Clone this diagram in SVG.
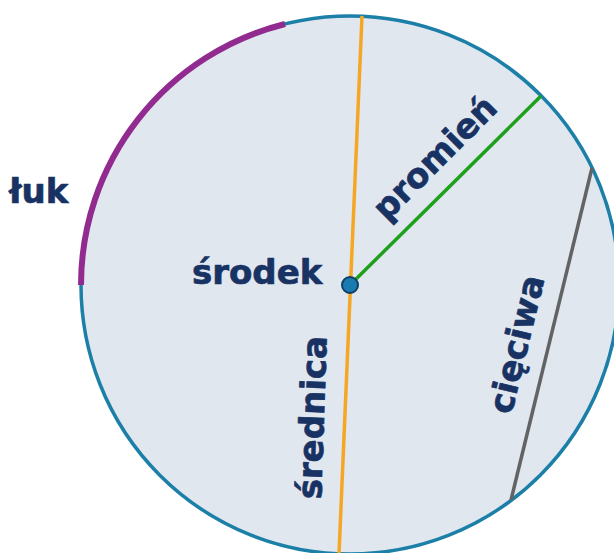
<svg xmlns="http://www.w3.org/2000/svg" width="614" height="553" viewBox="0 0 614 553">
<style>
.lbl{font-family:"DejaVu Sans","Verdana",sans-serif;font-weight:bold;font-size:34px;fill:#173263;stroke:#173263;stroke-width:0.7;stroke-linejoin:round}
.ln{fill:none;stroke-width:3.5;stroke-linecap:butt}
</style>
<rect width="614" height="553" fill="#ffffff"/>
<g id="circle">
<circle cx="350" cy="285" r="269" fill="#e1e7ef" stroke="#1b7fa7" stroke-width="3.5"/>
</g>
<g id="connectors">
<path id="luk-arc" d="M 81,285 A 269 269 0 0 1 285,24" fill="none" stroke="#922b90" stroke-width="6"/>
<line id="srednica-line" class="ln" x1="362" y1="16" x2="339" y2="554" stroke="#f5a623"/>
<line id="promien-line" class="ln" x1="350" y1="285" x2="541" y2="96" stroke="#1fa01c"/>
<line id="cieciwa-line" class="ln" x1="592" y1="168" x2="511" y2="500" stroke="#626364"/>
</g>
<g id="srodek">
<circle cx="350" cy="285" r="8" fill="#1a7bb0" stroke="#0f3f66" stroke-width="2"/>
<text class="lbl" x="192" y="284">środek</text>
</g>
<g id="luk">
<text class="lbl" x="9" y="203">łuk</text>
</g>
<g id="promien">
<text class="lbl" text-anchor="middle" transform="translate(443,166) rotate(-45)">promień</text>
</g>
<g id="cieciwa">
<text class="lbl" text-anchor="middle" transform="translate(528,347) rotate(-76.3)">cięciwa</text>
</g>
<g id="srednica">
<text class="lbl" text-anchor="middle" transform="translate(324,418) rotate(-88)">średnica</text>
</g>
</svg>
